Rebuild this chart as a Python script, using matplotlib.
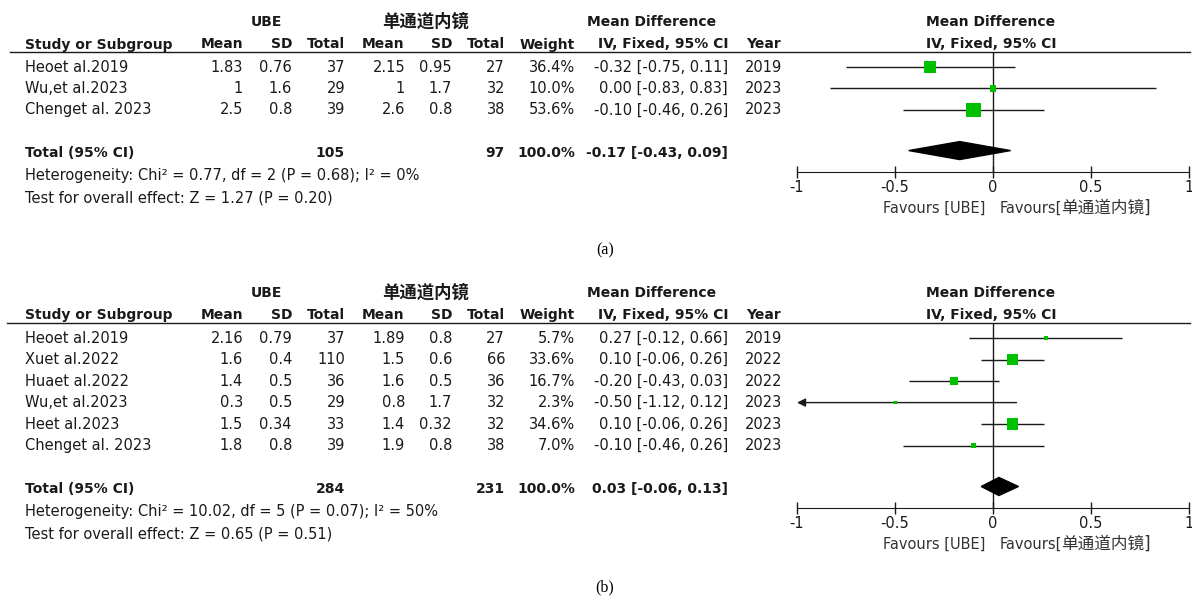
import matplotlib
matplotlib.use("Agg")
import matplotlib.pyplot as plt
from matplotlib.patches import Polygon
from matplotlib.transforms import blended_transform_factory
import numpy as np

plt.rcParams['font.family'] = ['DejaVu Sans', 'Noto Sans CJK SC']
plt.rcParams['axes.unicode_minus'] = False

GROUP_1 = 'UBE'
GROUP_2 = '单通道内镜'

# (a)
a_study = ['Heoet al.2019', 'Wu,et al.2023', 'Chenget al. 2023']
a_mean1 = [1.83, 1, 2.5]
a_sd1 = [0.76, 1.6, 0.8]
a_n1 = [37, 29, 39]
a_mean2 = [2.15, 1, 2.6]
a_sd2 = [0.95, 1.7, 0.8]
a_n2 = [27, 32, 38]
a_weight = [36.4, 10.0, 53.6]
a_md = [-0.32, 0.00, -0.10]
a_lo = [-0.75, -0.83, -0.46]
a_hi = [0.11, 0.83, 0.26]
a_year = [2019, 2023, 2023]
a_total = [105, 97, -0.17, -0.43, 0.09]
a_het = 'Heterogeneity: Chi² = 0.77, df = 2 (P = 0.68); I² = 0%'
a_test = 'Test for overall effect: Z = 1.27 (P = 0.20)'

# (b)
b_study = ['Heoet al.2019', 'Xuet al.2022', 'Huaet al.2022',
           'Wu,et al.2023', 'Heet al.2023', 'Chenget al. 2023']
b_mean1 = [2.16, 1.6, 1.4, 0.3, 1.5, 1.8]
b_sd1 = [0.79, 0.4, 0.5, 0.5, 0.34, 0.8]
b_n1 = [37, 110, 36, 29, 33, 39]
b_mean2 = [1.89, 1.5, 1.6, 0.8, 1.4, 1.9]
b_sd2 = [0.8, 0.6, 0.5, 1.7, 0.32, 0.8]
b_n2 = [27, 66, 36, 32, 32, 38]
b_weight = [5.7, 33.6, 16.7, 2.3, 34.6, 7.0]
b_md = [0.27, 0.10, -0.20, -0.50, 0.10, -0.10]
b_lo = [-0.12, -0.06, -0.43, -1.12, -0.06, -0.46]
b_hi = [0.66, 0.26, 0.03, 0.12, 0.26, 0.26]
b_year = [2019, 2022, 2022, 2023, 2023, 2023]
b_total = [284, 231, 0.03, -0.06, 0.13]
b_het = 'Heterogeneity: Chi² = 10.02, df = 5 (P = 0.07); I² = 50%'
b_test = 'Test for overall effect: Z = 0.65 (P = 0.51)'

xticks = [-1, -0.5, 0, 0.5, 1]
xtick_labels = ['-1', '-0.5', '0', '0.5', '1']

W, H = 1192, 599
fig = plt.figure(figsize=(W / 100, H / 100), dpi=100)
page = fig.add_axes([0, 0, 1, 1])
page.set_xlim(0, W)
page.set_ylim(H, 0)
page.axis('off')

INK = '#1a1a1a'
GREEN = '#00c000'
FS = 10.5
FSB = 10


def ci_text(m, l, h):
    return f'{m:.2f} [{l:.2f}, {h:.2f}]'


def panel(top, bottom, study, mean1, sd1, n1, mean2, sd2, n2, weight,
          md, lo, hi, year, total, het, test, caption, cap_y, line_x0):
    k = len(study)
    trow = k + 1
    # forest axes: x in mean difference units, y in table rows
    fx0, fx1 = 797, 1189
    fax = fig.add_axes([fx0 / W, 1 - bottom / H, (fx1 - fx0) / W, (bottom - top) / H])
    fax.set_xlim(-1, 1)
    fax.set_ylim(trow + 0.9, -0.7)
    fax.patch.set_visible(False)
    for s in ['top', 'left', 'right']:
        fax.spines[s].set_visible(False)
    fax.spines['bottom'].set_color(INK)
    fax.set_yticks([])
    fax.set_xticks(xticks)
    fax.set_xticklabels(xtick_labels)
    fax.tick_params(axis='x', direction='inout', length=8, width=1,
                    colors=INK, labelsize=FS, pad=2)
    fax.axvline(0, color=INK, lw=1)

    rows = np.arange(k)
    lo = np.asarray(lo)
    hi = np.asarray(hi)
    inside = lo >= -1
    fax.hlines(rows[inside], lo[inside], np.clip(hi[inside], -1, 1), color=INK, lw=1)
    # confidence limits past the axis end get an arrow at -1
    for r in rows[~inside]:
        fax.annotate('', xy=(-1, r), xytext=(hi[r], r),
                     arrowprops=dict(arrowstyle='-|>,head_length=0.5,head_width=0.25',
                                     color=INK, lw=1, shrinkA=0, shrinkB=0),
                     annotation_clip=False)
    side_px = np.maximum(1.95 * np.sqrt(weight), 3.5)
    fax.scatter(md, rows, marker='s', s=(side_px * 0.72) ** 2, color=GREEN,
                edgecolors='none', zorder=3)
    dh = 0.42
    m, l, h = total[2], total[3], total[4]
    fax.add_patch(Polygon([(l, trow - 0.1), (m, trow - 0.1 - dh), (h, trow - 0.1),
                           (m, trow - 0.1 + dh)],
                          closed=True, color='black', zorder=3))

    # table text: x in pixels, y in rows
    tr = blended_transform_factory(page.transData, fax.transData)

    def t(x, y, s, ha='right', bold=False, size=None, **kw):
        if size is None:
            size = FSB if bold else FS
        page.text(x, y, s, transform=tr, ha=ha, va='center', color=INK,
                  fontsize=size, fontweight='bold' if bold else 'normal', **kw)

    h1, h2 = -2.08, -1.05
    t(266, h1, GROUP_1, ha='center', bold=True)
    t(426, h1 - 0.03, GROUP_2, ha='center', bold=True, size=12.5)
    t(652, h1, 'Mean Difference', ha='center', bold=True)
    t(991, h1, 'Mean Difference', ha='center', bold=True)
    t(25, h2, 'Study or Subgroup', ha='left', bold=True)
    for x, s in [(243, 'Mean'), (292, 'SD'), (345, 'Total'), (404, 'Mean'),
                 (452, 'SD'), (505, 'Total'), (575, 'Weight'),
                 (728, 'IV, Fixed, 95% CI'), (781, 'Year')]:
        t(x, h2, s, bold=True)
    t(991, h2, 'IV, Fixed, 95% CI', ha='center', bold=True)
    page.plot([line_x0, 1190], [-0.7, -0.7], transform=tr, color=INK, lw=1)

    for r in rows:
        t(25, r, study[r], ha='left')
        t(243, r, f'{mean1[r]:g}')
        t(292, r, f'{sd1[r]:g}')
        t(345, r, f'{n1[r]}')
        t(405, r, f'{mean2[r]:g}')
        t(452, r, f'{sd2[r]:g}')
        t(505, r, f'{n2[r]}')
        t(575, r, f'{weight[r]:.1f}%')
        t(728, r, ci_text(md[r], lo[r], hi[r]))
        t(782, r, f'{year[r]}')

    t(25, trow, 'Total (95% CI)', ha='left', bold=True)
    t(345, trow, f'{total[0]}', bold=True)
    t(505, trow, f'{total[1]}', bold=True)
    t(575, trow, '100.0%', bold=True)
    t(728, trow, ci_text(*total[2:]), bold=True)
    t(25, trow + 1.08, het, ha='left')
    t(25, trow + 2.1, test, ha='left')

    fy = bottom + 36
    page.text(985, fy, f'Favours [{GROUP_1}]', ha='right', va='center',
              color='#333333', fontsize=FS)
    page.text(1000, fy, 'Favours[', ha='left', va='center',
              color='#333333', fontsize=FS)
    page.text(1061, fy, f'{GROUP_2}]', ha='left', va='center',
              color='#333333', fontsize=12)
    page.text(605, cap_y, caption, ha='center', va='center', color='black',
              fontsize=11.5, family='Liberation Serif')


panel(52, 172, a_study, a_mean1, a_sd1, a_n1, a_mean2, a_sd2, a_n2, a_weight,
      a_md, a_lo, a_hi, a_year, a_total, a_het, a_test, '(a)', 250, 10)
panel(323, 508, b_study, b_mean1, b_sd1, b_n1, b_mean2, b_sd2, b_n2, b_weight,
      b_md, b_lo, b_hi, b_year, b_total, b_het, b_test, '(b)', 587, 7)

fig.savefig('out.png', dpi=100, facecolor='white')
